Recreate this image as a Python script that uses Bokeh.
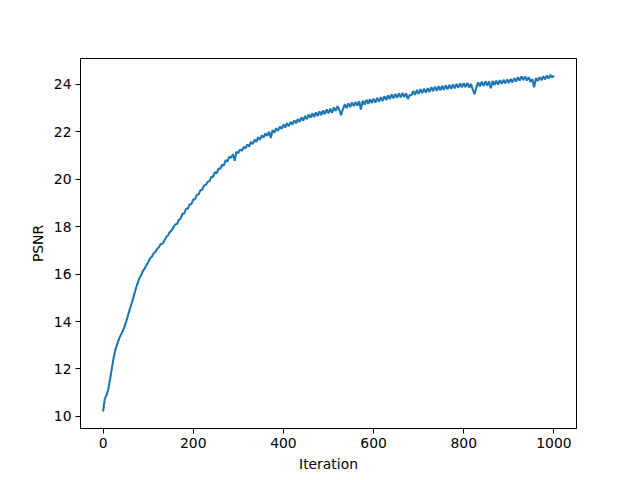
from bokeh.plotting import figure
from bokeh.models import Range1d, FixedTicker
from bokeh.embed import file_html
from bokeh.resources import INLINE

iterations = list(range(0, 1001, 4))
psnr = [
    10.20, 10.75, 10.90, 11.18, 11.62, 12.08, 12.52, 12.86, 13.08, 13.30,
    13.45, 13.62, 13.80, 14.04, 14.30, 14.56, 14.80, 15.06, 15.34, 15.58,
    15.80, 15.93, 16.12, 16.22, 16.38, 16.48, 16.66, 16.72, 16.87, 16.93,
    17.07, 17.13, 17.27, 17.28, 17.42, 17.56, 17.63, 17.77, 17.84, 17.97,
    18.09, 18.11, 18.29, 18.34, 18.54, 18.56, 18.74, 18.76, 18.94, 18.96,
    19.14, 19.16, 19.34, 19.36, 19.54, 19.56, 19.74, 19.76, 19.89, 19.91,
    20.10, 20.10, 20.30, 20.25, 20.45, 20.44, 20.61, 20.58, 20.81, 20.74,
    20.95, 20.90, 21.06, 20.78, 21.16, 21.10, 21.26, 21.20, 21.36, 21.30,
    21.47, 21.38, 21.57, 21.48, 21.67, 21.58, 21.77, 21.66, 21.85, 21.75,
    21.93, 21.83, 22.00, 21.74, 22.07, 21.96, 22.15, 22.04, 22.22, 22.12,
    22.30, 22.18, 22.36, 22.24, 22.42, 22.30, 22.48, 22.36, 22.54, 22.42,
    22.61, 22.47, 22.67, 22.53, 22.73, 22.59, 22.78, 22.62, 22.82, 22.66,
    22.86, 22.70, 22.90, 22.74, 22.94, 22.78, 22.98, 22.80, 23.03, 22.88,
    23.08, 22.92, 22.70, 22.96, 23.16, 23.00, 23.20, 23.04, 23.24, 23.08,
    23.26, 23.10, 23.29, 22.94, 23.31, 23.15, 23.35, 23.18, 23.38, 23.21,
    23.40, 23.23, 23.43, 23.26, 23.46, 23.30, 23.50, 23.34, 23.54, 23.38,
    23.58, 23.41, 23.60, 23.43, 23.62, 23.45, 23.64, 23.46, 23.62, 23.38,
    23.55, 23.54, 23.72, 23.56, 23.76, 23.60, 23.80, 23.63, 23.82, 23.65,
    23.84, 23.68, 23.88, 23.71, 23.90, 23.73, 23.92, 23.75, 23.94, 23.77,
    23.96, 23.79, 23.98, 23.81, 24.00, 23.83, 24.02, 23.85, 24.04, 23.87,
    24.05, 23.88, 24.06, 23.86, 24.02, 23.78, 23.58, 23.87, 24.08, 23.92,
    24.11, 23.94, 24.13, 23.95, 24.12, 23.84, 24.14, 23.97, 24.16, 23.99,
    24.18, 24.02, 24.19, 24.04, 24.21, 24.06, 24.23, 24.08, 24.26, 24.12,
    24.30, 24.16, 24.34, 24.18, 24.33, 24.16, 24.30, 24.10, 24.22, 23.88,
    24.26, 24.14, 24.30, 24.17, 24.34, 24.21, 24.37, 24.25, 24.40, 24.28,
    24.38,
]
x_ticks = [0, 200, 400, 600, 800, 1000]
y_ticks = [10, 12, 14, 16, 18, 20, 22, 24]

p = figure(
    frame_width=496, frame_height=370,
    x_range=Range1d(-50, 1050), y_range=Range1d(9.49, 25.09),
    output_backend="svg", toolbar_location=None,
    min_border_left=80, min_border_right=48, min_border_top=58, min_border_bottom=40,
)
p.line(iterations, psnr, line_color="#1f77b4", line_width=2.1)

p.xgrid.visible = False
p.ygrid.visible = False
p.outline_line_color = "black"
p.outline_line_width = 1
p.xaxis.ticker = FixedTicker(ticks=x_ticks)
p.yaxis.ticker = FixedTicker(ticks=y_ticks)
for ax in (p.xaxis, p.yaxis):
    ax.minor_tick_line_color = None
    ax.major_tick_in = 0
    ax.major_tick_out = 5
    ax.major_tick_line_color = "black"
    ax.axis_line_color = "black"
    ax.major_label_text_font = "DejaVu Sans"
    ax.major_label_text_font_size = "13.9px"
    ax.major_label_text_color = "black"
    ax.axis_label_text_font = "DejaVu Sans"
    ax.axis_label_text_font_size = "13.9px"
    ax.axis_label_text_font_style = "normal"
    ax.axis_label_text_color = "black"
    ax.major_label_standoff = 4
    ax.axis_label_standoff = 5
p.xaxis.axis_label = "Iteration"
p.yaxis.axis_label = "PSNR"

open("out.html", "w").write(file_html(p, INLINE))
